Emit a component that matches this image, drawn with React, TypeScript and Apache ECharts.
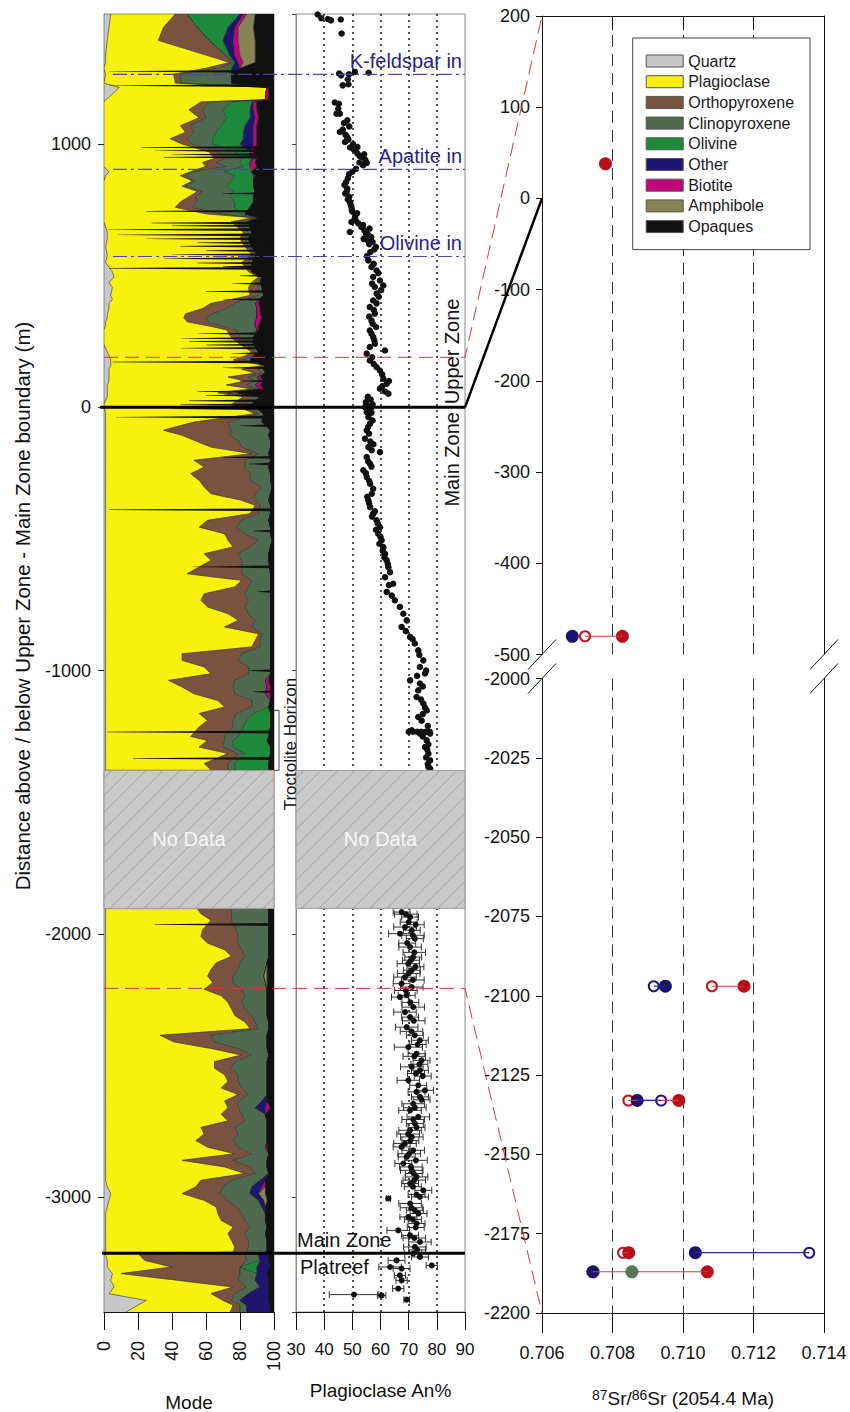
import React, { useEffect, useRef } from "react";
import * as echarts from "echarts";

const FONT = "'Liberation Sans', Arial, Helvetica, sans-serif";

// ---------------- Modal mineralogy (stacked, % per sample) ----------------
const minerals = ["Quartz", "Plagioclase", "Orthopyroxene", "Clinopyroxene", "Olivine", "Other", "Biotite", "Amphibole", "Opaques"];
const mineralColors = ["#c8c8c8", "#f7f10d", "#7a5240", "#4e6b50", "#1e8a3c", "#1f1672", "#c2047a", "#878352", "#111111"];

const modeDepth = [
  1494, 1443, 1394, 1336, 1310, 1288, 1265, 1232,
  1215, 1190, 1168, 1160, 1130, 1100, 1070, 1045, 1020, 1000,
  970, 945, 930, 915, 895, 880, 860, 840,
  820, 800, 780, 760, 735, 720, 705,
  665, 640, 610, 580, 550,
  515, 495, 475, 455, 425, 410, 395, 375,
  355, 340, 325, 310, 295, 265, 240,
  210, 195, 180, 160, 145, 130, 115, 100, 85,
  70, 55, 40, 12, -24, -56, -87,
  -106, -125, -151, -176, -201, -227, -252, -277, -303,
  -328, -353, -372, -404, -429, -455, -480, -505, -530,
  -556, -581, -632, -657, -682, -708, -733, -758, -784,
  -809, -834, -860, -885, -910, -936, -961, -986, -1012, -1037,
  -1062, -1088, -1113, -1138, -1163, -1189, -1214, -1250, -1265,
  -1290, -1315, -1353, -1378, -1904, -1923, -1948, -1985,
  -2010, -2035, -2060, -2085, -2110, -2135, -2160, -2185, -2210, -2235,
  -2260, -2285, -2310, -2335, -2360, -2385, -2410, -2435, -2460, -2485,
  -2510, -2535, -2560, -2585, -2610, -2635, -2660, -2685, -2710, -2735,
  -2760, -2785, -2810, -2835, -2860, -2885, -2910, -2936, -2961, -2986,
  -3012, -3037, -3062, -3088, -3113, -3138, -3164, -3189, -3208, -3220,
  -3240, -3265, -3290, -3316, -3341, -3366, -3392, -3410, -3440,
];
const quartz = [
  4, 3, 2, 1, 1, 0, 1, 0,
  9, 5, 1, 0, 0, 0, 0, 0, 0, 0,
  0, 0, 0, 0, 3, 1, 0, 0,
  0, 0, 0, 0, 0, 0, 0,
  2, 2, 1, 2, 1,
  5, 6, 3, 5, 4, 5, 3, 3,
  2, 2, 1, 1, 0, 0, 0,
  2, 3, 4, 4, 3, 3, 3, 3, 2,
  2, 2, 2, 0, 1, 1, 1,
  1, 1, 1, 1, 1, 1, 1, 1, 1,
  1, 1, 1, 1, 1, 1, 1, 1, 1,
  1, 1, 1, 1, 1, 1, 1, 1, 1,
  1, 1, 1, 1, 1, 1, 1, 1, 1, 1,
  1, 1, 1, 1, 1, 1, 1, 1, 1,
  1, 1, 1, 1, 1, 1, 1, 1,
  1, 1, 1, 1, 1, 1, 1, 1, 1, 1,
  1, 1, 1, 1, 1, 1, 1, 1, 1, 1,
  1, 1, 1, 1, 1, 1, 1, 1, 1, 1,
  1, 1, 1, 1, 1, 1, 1, 1, 2, 4,
  3, 2, 1, 1, 1, 1, 1, 1, 1, 1,
  2, 2, 5, 4, 6, 3, 25, 20, 12,
];
const plagioclase = [
  38, 32, 30, 60, 73, 60, 40, 42,
  87, 90, 94, 57, 50, 56, 45, 48, 39, 46,
  62, 65, 58, 60, 48, 44, 52, 46,
  55, 50, 45, 42, 60, 88, 75,
  80, 78, 82, 85, 80,
  80, 85, 84, 80, 82, 70, 60, 55,
  46, 45, 48, 60, 72, 75, 80,
  85, 80, 72, 90, 78, 86, 70, 80, 70,
  85, 65, 80, 75, 88, 52, 34,
  45, 52, 62, 86, 52, 58, 50, 55, 58,
  62, 80, 88, 85, 60, 55, 70, 72, 75,
  58, 62, 48, 80, 76, 58, 56, 60, 72,
  78, 70, 90, 88, 86, 45, 45, 58, 62, 37,
  45, 52, 66, 70, 55, 60, 55, 50, 60,
  55, 72, 58, 62, 54, 56, 62, 57,
  56, 60, 70, 74, 65, 62, 60, 63, 58, 68,
  72, 74, 76, 82, 85, 32, 40, 62, 80, 64,
  64, 70, 72, 68, 78, 70, 72, 68, 72, 56,
  58, 53, 60, 76, 45, 70, 82, 56, 52, 42,
  56, 64, 66, 68, 75, 72, 74, 76, 75, 20,
  22, 38, 5, 40, 70, 60, 45, 56, 62,
];
const orthopyroxene = [
  7, 20, 30, 11, 2, 8, 4, 3,
  0, 0, 0, 5, 8, 4, 6, 5, 10, 6,
  6, 6, 8, 12, 2, 3, 2, 2,
  3, 4, 10, 10, 10, 2, 4,
  3, 3, 2, 2, 4,
  2, 2, 3, 6, 5, 8, 14, 14,
  16, 13, 12, 8, 6, 5, 4,
  2, 5, 6, 1, 10, 4, 12, 6, 12,
  3, 6, 6, 8, 2, 20, 40,
  28, 26, 18, 4, 30, 24, 35, 30, 34,
  26, 8, 3, 5, 20, 22, 12, 18, 10,
  20, 18, 32, 6, 8, 24, 28, 22, 12,
  10, 16, 2, 3, 5, 35, 33, 26, 22, 39,
  30, 24, 20, 16, 22, 15, 20, 20, 10,
  14, 6, 14, 10, 20, 18, 12, 20,
  22, 18, 10, 8, 14, 16, 15, 12, 22, 14,
  8, 8, 10, 6, 5, 30, 24, 16, 6, 12,
  10, 8, 6, 12, 6, 8, 6, 12, 10, 20,
  20, 22, 18, 10, 30, 15, 6, 18, 16, 22,
  14, 12, 14, 14, 10, 10, 10, 8, 8, 62,
  60, 40, 70, 35, 8, 14, 5, 4, 6,
];
const clinopyroxene = [
  0, 0, 0, 0, 0, 5, 30, 30,
  0, 0, 0, 13, 12, 12, 18, 13, 15, 12,
  10, 10, 14, 10, 18, 29, 21, 24,
  18, 20, 22, 25, 10, 2, 5,
  2, 2, 2, 1, 2,
  0, 0, 2, 2, 3, 8, 12, 18,
  26, 30, 28, 20, 12, 8, 4,
  2, 0, 4, 0, 3, 2, 5, 3, 5,
  2, 6, 4, 4, 3, 20, 23,
  23, 19, 17, 6, 15, 14, 12, 12, 6,
  9, 8, 6, 7, 16, 20, 15, 8, 12,
  18, 16, 17, 11, 13, 15, 13, 15, 13,
  9, 11, 5, 6, 6, 17, 19, 13, 13, 18,
  20, 18, 11, 10, 10, 8, 6, 8, 5,
  6, 4, 4, 4, 22, 22, 22, 19,
  18, 18, 16, 14, 16, 16, 18, 19, 15, 13,
  15, 13, 9, 8, 6, 33, 31, 17, 10, 19,
  21, 17, 17, 15, 11, 14, 10, 14, 13, 19,
  17, 20, 16, 10, 20, 10, 8, 17, 17, 18,
  18, 15, 14, 12, 10, 12, 11, 11, 12, 8,
  8, 0, 10, 10, 8, 8, 5, 4, 4,
];
const olivine = [
  31, 18, 8, 2, 1, 2, 0, 0,
  0, 0, 0, 12, 16, 14, 14, 16, 18, 16,
  8, 6, 6, 4, 16, 11, 13, 16,
  13, 14, 11, 9, 3, 0, 1,
  0, 0, 0, 0, 0,
  0, 0, 0, 0, 0, 0, 0, 0,
  0, 0, 0, 0, 0, 0, 0,
  0, 0, 0, 0, 0, 0, 0, 0, 0,
  0, 0, 0, 0, 0, 0, 0,
  0, 0, 0, 0, 0, 0, 0, 0, 0,
  0, 0, 0, 0, 0, 0, 0, 0, 0,
  0, 0, 0, 0, 0, 0, 0, 0, 0,
  0, 0, 0, 0, 0, 0, 0, 0, 0, 0,
  0, 0, 0, 0, 10, 14, 16, 18, 20,
  22, 15, 20, 20, 0, 0, 0, 0,
  0, 0, 0, 0, 0, 0, 0, 0, 0, 0,
  0, 0, 0, 0, 0, 0, 0, 0, 0, 0,
  0, 0, 0, 0, 0, 0, 0, 0, 0, 0,
  0, 0, 0, 0, 0, 0, 0, 0, 0, 0,
  0, 0, 0, 0, 0, 0, 0, 0, 0, 0,
  0, 10, 0, 0, 0, 0, 0, 0, 0,
];
const otherMinerals = [
  2, 4, 6, 3, 2, 5, 0, 0,
  0, 0, 0, 1, 2, 3, 5, 6, 6, 8,
  0, 1, 0, 0, 0, 0, 0, 0,
  0, 0, 0, 0, 0, 0, 0,
  0, 0, 0, 0, 0,
  0, 0, 0, 0, 0, 0, 0, 0,
  0, 0, 0, 0, 0, 0, 0,
  0, 0, 0, 0, 0, 0, 0, 0, 0,
  0, 0, 0, 0, 0, 0, 0,
  0, 0, 0, 0, 0, 0, 0, 0, 0,
  0, 0, 0, 0, 0, 0, 0, 0, 0,
  0, 0, 0, 0, 0, 0, 0, 0, 0,
  0, 0, 0, 0, 0, 0, 0, 0, 0, 0,
  0, 0, 0, 0, 0, 0, 0, 0, 0,
  0, 0, 0, 0, 0, 0, 0, 0,
  0, 0, 0, 0, 0, 0, 0, 0, 0, 0,
  0, 0, 0, 0, 0, 0, 0, 0, 0, 0,
  0, 0, 0, 0, 0, 3, 6, 0, 0, 0,
  0, 0, 0, 0, 0, 0, 0, 3, 6, 5,
  3, 2, 0, 0, 0, 0, 0, 0, 0, 6,
  5, 8, 6, 8, 5, 12, 17, 14, 14,
];
const biotite = [
  2, 2, 3, 3, 3, 0, 0, 0,
  1, 2, 2, 2, 2, 2, 2, 2, 2, 2,
  2, 2, 3, 4, 0, 1, 0, 0,
  0, 0, 0, 0, 0, 0, 0,
  0, 0, 0, 0, 0,
  0, 0, 0, 0, 0, 1, 2, 2,
  2, 3, 3, 2, 1, 0, 0,
  0, 0, 0, 0, 0, 0, 2, 2, 3,
  2, 0, 0, 0, 0, 0, 0,
  0, 0, 0, 0, 0, 0, 0, 0, 0,
  0, 0, 0, 0, 0, 0, 0, 0, 0,
  0, 0, 0, 0, 0, 0, 0, 0, 0,
  0, 0, 0, 0, 0, 0, 0, 0, 0, 2,
  2, 3, 0, 0, 0, 0, 0, 0, 0,
  0, 0, 0, 0, 0, 0, 0, 0,
  0, 0, 0, 0, 0, 0, 0, 0, 0, 0,
  0, 0, 0, 0, 0, 0, 0, 0, 0, 0,
  0, 0, 0, 0, 0, 0, 3, 0, 0, 0,
  0, 0, 1, 0, 0, 0, 0, 0, 2, 0,
  0, 0, 0, 0, 0, 0, 0, 0, 0, 0,
  0, 0, 0, 0, 0, 0, 0, 0, 0,
];
const amphibole = [
  5, 9, 10, 9, 7, 0, 0, 0,
  0, 0, 0, 0, 0, 0, 0, 0, 0, 0,
  0, 0, 0, 0, 0, 0, 0, 0,
  0, 0, 0, 0, 0, 0, 0,
  0, 0, 0, 0, 0,
  0, 0, 0, 0, 0, 0, 0, 0,
  0, 0, 0, 0, 0, 0, 0,
  0, 0, 0, 0, 0, 0, 0, 0, 0,
  0, 0, 0, 0, 0, 0, 0,
  0, 0, 0, 0, 0, 0, 0, 0, 0,
  0, 0, 0, 0, 0, 0, 0, 0, 0,
  0, 0, 0, 0, 0, 0, 0, 0, 0,
  0, 0, 0, 0, 0, 0, 0, 0, 0, 0,
  0, 0, 0, 0, 0, 0, 0, 0, 0,
  0, 0, 0, 0, 0, 0, 0, 0,
  0, 0, 0, 0, 0, 1, 2, 1, 0, 0,
  0, 0, 0, 0, 0, 0, 0, 0, 0, 0,
  0, 0, 0, 0, 0, 0, 0, 0, 0, 0,
  0, 0, 0, 0, 0, 0, 0, 0, 0, 4,
  2, 0, 0, 0, 0, 0, 0, 0, 0, 0,
  0, 0, 0, 0, 0, 0, 0, 0, 0,
];
const opaques = [
  11, 12, 11, 11, 11, 20, 25, 25,
  3, 3, 3, 10, 10, 9, 10, 10, 10, 10,
  12, 10, 11, 10, 13, 11, 12, 12,
  11, 12, 12, 14, 17, 8, 15,
  13, 15, 13, 10, 13,
  13, 7, 8, 7, 6, 8, 9, 8,
  8, 7, 8, 9, 9, 12, 12,
  9, 12, 14, 5, 6, 5, 8, 6, 8,
  6, 21, 8, 13, 6, 7, 2,
  3, 2, 2, 3, 2, 3, 2, 2, 1,
  2, 3, 2, 2, 3, 2, 2, 1, 2,
  3, 3, 2, 2, 2, 2, 2, 2, 2,
  2, 2, 2, 2, 2, 2, 2, 2, 2, 3,
  2, 2, 2, 3, 2, 2, 2, 3, 4,
  2, 2, 3, 3, 3, 3, 3, 3,
  3, 3, 3, 3, 4, 4, 4, 4, 4, 4,
  4, 4, 4, 3, 3, 4, 4, 4, 3, 4,
  4, 4, 4, 4, 4, 4, 2, 5, 4, 4,
  4, 4, 4, 3, 4, 4, 3, 5, 5, 5,
  4, 5, 5, 5, 4, 5, 4, 4, 4, 3,
  3, 2, 4, 3, 3, 3, 3, 2, 2,
];
const modeValues = [quartz, plagioclase, orthopyroxene, clinopyroxene, olivine, otherMinerals, biotite, amphibole, opaques];

// thin opaque-rich seams: depth (m) and the mode % their tip reaches from the right
const seamDepth = [1276, 1222, 987, 975, 960, 950, 812, 745, 700, 690, 675, 655, 640, 625, 612, 595, 580, 565, 548, 535, 528, 500, 470, 440, 410, 280, 262, 250, 237, 225, 205, 172, 150, 100, 60, 45, 25, 10, -5, -37, -70, -190, -215, -389, -470, -606, -700, -1000, -1080, -1233, -1334, -1964];
const seamReach = [3, 3, 22, 30, 40, 35, 70, 25, 28, 40, 2, 8, 25, 55, 45, 60, 40, 35, 55, 70, 3, 80, 75, 60, 70, 55, 45, 50, 60, 45, 75, 5, 70, 80, 55, 60, 50, 45, 40, 7, 80, 70, 85, 3, 88, 52, 90, 85, 88, 2, 17, 30];

// ---------------- Plagioclase An% ----------------
// [depth (m), An%]
const anUpperSamples = [
  [1492, 37.7], [1478, 39.0], [1475, 41.3], [1470, 42.4], [1473, 45.9], [1420, 46.2],
  [1274, 50.9], [1271, 55.8], [1268, 45.3], [1265, 48.8], [1261, 46.0], [1246, 48.4], [1227, 48.6], [1223, 46.6],
  [1158, 43.8], [1153, 45.2], [1134, 45.0], [1115, 45.6], [1115, 44.4], [1090, 48.2], [1080, 47.0], [1067, 48.9],
  [1055, 46.6], [1046, 45.6], [1035, 47.6], [1027, 48.2], [1017, 48.6], [1008, 47.4], [999, 50.3], [989, 51.8],
  [987, 49.2], [980, 50.5], [974, 51.3], [964, 51.8], [961, 54.2], [955, 52.6], [951, 53.3], [940, 54.6],
  [930, 52.5], [928, 55.1], [920, 53.8], [906, 51.3], [895, 50.0], [885, 48.8], [870, 48.4], [856, 47.8],
  [845, 47.2], [831, 48.2], [820, 48.0], [812, 47.5], [800, 48.9], [790, 48.4], [781, 49.1], [770, 49.4],
  [762, 49.7], [750, 49.8], [743, 50.1], [737, 51.7], [725, 51.0], [718, 50.9], [710, 51.2], [704, 49.7],
  [699, 52.1], [692, 53.8], [685, 53.2], [679, 56.1], [672, 54.3], [666, 49.1], [660, 54.9], [655, 55.6],
  [647, 56.7], [640, 54.0], [634, 55.5], [628, 57.2], [620, 56.0], [609, 58.4], [600, 57.8], [590, 56.4],
  [575, 55.2], [558, 55.7], [545, 57.6], [533, 56.8], [520, 58.6], [510, 59.2], [495, 57.4], [482, 59.8],
  [470, 57.0], [463, 61.0], [457, 58.0], [445, 60.2], [432, 58.6], [420, 59.4], [406, 57.4], [395, 58.6],
  [381, 56.2], [370, 57.6], [356, 58.0], [345, 56.0], [330, 56.8], [318, 57.2], [305, 58.4], [292, 56.2],
  [280, 56.8], [267, 57.4], [255, 57.8], [242, 58.0], [229, 56.2], [216, 61.6], [204, 55.1], [190, 57.0],
  [178, 56.2], [165, 57.6], [153, 58.6], [140, 59.8], [125, 60.6], [109, 61.0], [100, 63.0], [90, 62.2],
  [80, 60.6], [71, 59.8], [60, 61.6], [52, 62.8], [40, 55.5], [30, 56.5], [20, 54.8], [12, 57.2],
  [5, 55.8], [1, 54.5], [-2, 56.6], [-18, 55.1], [-20, 56.8], [-37, 55.7], [-50, 57.2], [-62, 56.3],
  [-75, 55.6], [-87, 55.1], [-100, 55.9], [-119, 54.5], [-130, 56.4], [-140, 57.5], [-151, 55.7], [-163, 56.9],
  [-170, 59.8], [-189, 55.1], [-205, 55.6], [-214, 56.3], [-225, 56.8], [-239, 53.9], [-250, 54.8], [-265, 55.1],
  [-280, 56.0], [-290, 56.3], [-309, 57.4], [-328, 56.9], [-340, 55.3], [-353, 55.7], [-365, 56.0], [-379, 56.3],
  [-395, 58.0], [-404, 57.4], [-415, 57.0], [-429, 58.6], [-440, 59.0], [-455, 59.8], [-465, 58.4], [-480, 59.2],
  [-492, 60.0], [-505, 60.4], [-518, 59.6], [-531, 61.0], [-545, 60.8], [-556, 61.6], [-570, 61.4], [-581, 62.2],
  [-595, 62.6], [-607, 62.8], [-626, 63.4], [-645, 61.6], [-670, 64.5], [-675, 63.0], [-701, 62.2], [-715, 64.0],
  [-733, 65.1], [-758, 66.9], [-784, 68.1], [-809, 69.3], [-834, 67.5], [-850, 69.0], [-872, 70.5], [-880, 71.4],
  [-897, 72.2], [-923, 73.4], [-940, 73.8], [-961, 75.2], [-986, 74.0], [-1000, 76.2], [-1011, 75.8], [-1020, 73.0],
  [-1037, 70.5], [-1049, 74.0], [-1060, 75.0], [-1075, 73.4], [-1100, 72.8], [-1110, 74.4], [-1125, 75.2], [-1140, 75.8],
  [-1151, 76.4], [-1165, 75.0], [-1176, 73.4], [-1190, 74.6], [-1210, 76.8], [-1227, 71.1], [-1232, 70.0], [-1232, 71.5],
  [-1232, 73.0], [-1232, 74.5], [-1232, 76.0], [-1232, 77.5], [-1236, 75.5], [-1239, 74.0], [-1239, 77.6], [-1250, 75.0],
  [-1265, 76.4], [-1280, 77.0], [-1290, 75.8], [-1300, 76.6], [-1315, 77.0], [-1330, 76.2], [-1341, 77.6], [-1355, 76.8],
  [-1366, 77.0], [-1372, 77.6],
];
// [depth (m), An%, error (±An%)]
const anLowerSamples = [
  [-1917, 67.5, 3], [-1925, 69.0, 4], [-1936, 70.5, 3], [-1955, 70.0, 3], [-1965, 72.5, 3], [-1974, 68.7, 4],
  [-1986, 71.1, 3], [-1999, 66.9, 4], [-2005, 71.5, 4], [-2018, 72.2, 3], [-2035, 69.5, 3], [-2050, 70.5, 4],
  [-2070, 72.0, 4], [-2088, 71.6, 3], [-2100, 70.8, 3], [-2113, 69.9, 4], [-2125, 72.4, 3], [-2138, 71.1, 3],
  [-2150, 70.0, 4], [-2164, 68.7, 4], [-2175, 71.5, 4], [-2189, 67.5, 3], [-2202, 71.1, 4], [-2215, 69.0, 4],
  [-2233, 69.3, 3], [-2240, 66.9, 3], [-2260, 70.6, 3], [-2278, 71.6, 4], [-2297, 68.7, 4], [-2316, 70.5, 3],
  [-2330, 71.8, 4], [-2354, 69.3, 4], [-2370, 71.0, 4], [-2385, 72.2, 3], [-2404, 74.0, 3], [-2420, 73.2, 3],
  [-2430, 69.9, 5], [-2455, 72.8, 3], [-2465, 72.0, 4], [-2480, 74.6, 3], [-2495, 73.8, 3], [-2505, 71.1, 4],
  [-2518, 74.0, 3], [-2530, 72.6, 3], [-2540, 75.0, 3], [-2556, 69.9, 4], [-2575, 73.4, 3], [-2594, 75.8, 3],
  [-2600, 72.8, 3], [-2619, 74.0, 3], [-2630, 74.6, 3], [-2645, 71.6, 4], [-2660, 72.2, 4], [-2670, 70.5, 4],
  [-2695, 73.4, 4], [-2705, 71.6, 4], [-2720, 72.2, 3], [-2735, 72.8, 3], [-2746, 70.5, 4], [-2760, 69.8, 4],
  [-2771, 71.1, 4], [-2785, 70.6, 3], [-2796, 68.7, 4], [-2809, 67.5, 3], [-2822, 71.6, 4], [-2835, 70.2, 4],
  [-2847, 69.3, 3], [-2860, 72.6, 4], [-2872, 68.1, 3], [-2885, 70.8, 4], [-2898, 71.1, 4], [-2910, 71.8, 3],
  [-2923, 72.8, 4], [-2935, 72.0, 4], [-2948, 70.5, 3], [-2960, 71.5, 3], [-2974, 75.2, 3], [-2990, 72.8, 3],
  [-2999, 74.0, 3], [-3005, 62.8, 0.8], [-3024, 70.5, 4], [-3040, 71.0, 4], [-3050, 72.2, 3], [-3062, 73.5, 3],
  [-3075, 69.9, 3], [-3085, 71.5, 3], [-3100, 72.8, 3], [-3115, 72.5, 3], [-3126, 66.3, 4], [-3145, 70.5, 3],
  [-3155, 72.0, 4], [-3170, 74.0, 4], [-3189, 72.2, 4], [-3200, 73.0, 3], [-3214, 71.6, 3], [-3227, 74.0, 3],
  [-3240, 65.7, 3], [-3259, 78.2, 2], [-3265, 63.4, 4], [-3271, 67.5, 3], [-3297, 66.9, 2], [-3316, 67.5, 2],
  [-3347, 66.3, 2], [-3370, 50.6, 8.8], [-3373, 60.4, 1.5], [-3389, 69.3, 1],
];

// ---------------- 87Sr/86Sr (2054.4 Ma) ----------------
const srDepth = [38, -480, -2097, -2133, -2181, -2187];
const srRedFilled = [0.7078, 0.70828, 0.71173, 0.70988, 0.70846, 0.71069];
const srRedOpen = [null, 0.70722, 0.71082, 0.70845, 0.7083, 0.70743];
const srNavyFilled = [null, 0.70686, 0.7095, 0.7087, 0.71035, 0.70745];
const srNavyOpen = [null, null, 0.70917, 0.70938, 0.71358, null];
const srGreenFilled = [null, null, null, null, null, 0.70855];

// ---------------- Annotations ----------------
const phaseNames = ["K-feldspar in", "Apatite in", "Olivine in"];
const phaseDepths = [1265, 904, 573];
const zoneBoundaryDepth = 0;
const platreefDepth = -3213;
const redLinkDepths = [190, -2207];
const srLinkValues = [200, -2200];
const troctoliteTopDepth = -1151;
const noDataTop = -1379;
const noDataBottom = -1903;

const MODE_MIN = -3436;
const MODE_MAX = 1494;

function buildOption() {
  const lo: number[][] = [];
  const hi: number[][] = [];
  let run = modeDepth.map(() => 0);
  modeValues.forEach((arr) => {
    lo.push(run);
    run = run.map((v, i) => v + arr[i]);
    hi.push(run);
  });
  const segments: number[][] = [];
  let s = 0;
  for (let i = 1; i < modeDepth.length; i++) {
    if (modeDepth[i - 1] - modeDepth[i] > 300) {
      segments.push([s, i - 1]);
      s = i;
    }
  }
  segments.push([s, modeDepth.length - 1]);

  const modeSeries: any[] = minerals.map((name, k) => ({
    type: "custom",
    name,
    xAxisIndex: 0,
    yAxisIndex: 0,
    clip: true,
    silent: true,
    itemStyle: { color: mineralColors[k] },
    data: [[0, 0]],
    renderItem: (_p: any, api: any) => ({
      type: "group",
      children: segments.map(([a, b]) => {
        const pts: number[][] = [];
        for (let i = a; i <= b; i++) pts.push(api.coord([hi[k][i], modeDepth[i]]));
        for (let i = b; i >= a; i--) pts.push(api.coord([lo[k][i], modeDepth[i]]));
        return {
          type: "polygon",
          shape: { points: pts },
          style: { fill: mineralColors[k], stroke: "#1a1a1a", lineWidth: 0.4 },
        };
      }),
    }),
  }));
  modeSeries.push({
    type: "custom",
    xAxisIndex: 0,
    yAxisIndex: 0,
    clip: true,
    silent: true,
    data: seamDepth.map((d, i) => [seamReach[i], d]),
    renderItem: (_p: any, api: any) => {
      const r = api.value(0);
      const d = api.value(1);
      return {
        type: "polygon",
        shape: {
          points: [api.coord([100, d + 5.5]), api.coord([r, d + 0.8]), api.coord([r, d - 0.8]), api.coord([100, d - 5.5])],
        },
        style: { fill: "#111" },
      };
    },
  });

  const anSeries: any[] = [
    {
      type: "scatter",
      xAxisIndex: 1,
      yAxisIndex: 1,
      silent: true,
      symbolSize: 6.5,
      itemStyle: { color: "#111", opacity: 1 },
      data: anUpperSamples.map(([d, a]) => [a, d]),
    },
    {
      type: "custom",
      xAxisIndex: 1,
      yAxisIndex: 1,
      silent: true,
      data: anLowerSamples.map(([d, a, e]) => [a, d, e]),
      renderItem: (_p: any, api: any) => {
        const v = api.value(0);
        const d = api.value(1);
        const e = api.value(2);
        const a = api.coord([v - e, d]);
        const b = api.coord([v + e, d]);
        const st = { stroke: "#333", lineWidth: 1 };
        return {
          type: "group",
          children: [
            { type: "line", shape: { x1: a[0], y1: a[1], x2: b[0], y2: b[1] }, style: st },
            { type: "line", shape: { x1: a[0], y1: a[1] - 3.5, x2: a[0], y2: a[1] + 3.5 }, style: st },
            { type: "line", shape: { x1: b[0], y1: b[1] - 3.5, x2: b[0], y2: b[1] + 3.5 }, style: st },
          ],
        };
      },
    },
    {
      type: "scatter",
      xAxisIndex: 1,
      yAxisIndex: 1,
      silent: true,
      symbolSize: 6,
      itemStyle: { color: "#111", opacity: 1 },
      data: anLowerSamples.map(([d, a]) => [a, d]),
    },
  ];

  const srAxes = (d: number) => (d > -1000 ? { xAxisIndex: 2, yAxisIndex: 2 } : { xAxisIndex: 3, yAxisIndex: 4 });
  const srSeries: any[] = [];
  const linkPairs: [any[], any[], string][] = [
    [srRedOpen, srRedFilled, "#d43a3a"],
    [srNavyOpen, srNavyFilled, "#2a2790"],
  ];
  linkPairs.forEach(([a, b, color]) => {
    srDepth.forEach((d, i) => {
      if (a[i] != null && b[i] != null) {
        srSeries.push({
          type: "line",
          ...srAxes(d),
          silent: true,
          symbol: "none",
          lineStyle: { color, width: 1.2 },
          data: [[a[i], d], [b[i], d]],
        });
      }
    });
  });
  const markerKinds: [any[], string, string, number][] = [
    [srRedOpen, "emptyCircle", "#c0121b", 10],
    [srNavyOpen, "emptyCircle", "#1f1a86", 10],
    [srGreenFilled, "circle", "#4f7a56", 13],
    [srRedFilled, "circle", "#b90f18", 13],
    [srNavyFilled, "circle", "#1a126c", 13],
  ];
  markerKinds.forEach(([vals, symbol, color, size]) => {
    [true, false].forEach((top) => {
      const data = srDepth
        .map((d, i) => (vals[i] == null ? null : [vals[i], d]))
        .filter((p) => p && (top ? p[1] > -1000 : p[1] <= -1000));
      if (!data.length) return;
      srSeries.push({
        type: "scatter",
        ...(top ? { xAxisIndex: 2, yAxisIndex: 2 } : { xAxisIndex: 3, yAxisIndex: 4 }),
        silent: true,
        symbol,
        symbolSize: size,
        itemStyle: { color, opacity: 1, borderWidth: symbol === "emptyCircle" ? 1.5 : 0 },
        data,
      });
    });
  });

  const lbl = { color: "#111", fontFamily: FONT, fontSize: 18 };
  const blackLine = { show: true, onZero: false, lineStyle: { color: "#111", width: 1 } };
  const grayLine = { show: true, onZero: false, lineStyle: { color: "#8c8c8c", width: 1 } };
  const srDash = {
    show: true,
    showMinLine: false,
    showMaxLine: false,
    lineStyle: { type: [12, 7], color: "#333", width: 1 },
  };
  const fmt = (v: number) => String(v);

  return {
    animation: false,
    backgroundColor: "#fff",
    textStyle: { fontFamily: FONT },
    grid: [
      { left: 104, top: 14, width: 170, height: 1298, show: true, borderColor: "#8c8c8c", borderWidth: 1 },
      { left: 296, top: 14, width: 169, height: 1298, show: true, borderColor: "#8c8c8c", borderWidth: 1 },
      { left: 542, top: 16, width: 282, height: 638.5 },
      { left: 542, top: 678.5, width: 282, height: 634.5 },
    ],
    legend: {
      data: minerals,
      orient: "vertical",
      left: 632.7,
      top: 38,
      icon: "rect",
      itemWidth: 37,
      itemHeight: 12,
      itemGap: 4.7,
      padding: [15, 16, 15, 13],
      backgroundColor: "#fff",
      borderColor: "#444",
      borderWidth: 1,
      selectedMode: false,
      itemStyle: { borderColor: "#555", borderWidth: 1 },
      textStyle: { fontSize: 16, color: "#1a1a1a", fontFamily: FONT },
    },
    xAxis: [
      {
        gridIndex: 0, type: "value", min: 0, max: 100, interval: 20, position: "bottom",
        axisLine: blackLine,
        axisTick: { show: true, length: 18, lineStyle: { color: "#111" } },
        axisLabel: { ...lbl, rotate: 90, margin: 29 },
        splitLine: { show: false },
      },
      {
        gridIndex: 1, type: "value", min: 30, max: 90, interval: 10, position: "bottom",
        axisLine: blackLine,
        axisTick: { show: true, length: 18, lineStyle: { color: "#111" } },
        axisLabel: { ...lbl, fontSize: 17, margin: 29 },
        splitLine: { show: true, showMinLine: false, showMaxLine: false, lineStyle: { type: [2, 4], color: "#222", width: 1.6 } },
      },
      {
        gridIndex: 2, type: "value", min: 0.706, max: 0.714, interval: 0.002, position: "top",
        axisLine: blackLine,
        axisTick: { show: true, inside: true, length: 14, lineStyle: { color: "#111" } },
        axisLabel: { show: false },
        splitLine: srDash,
      },
      {
        gridIndex: 3, type: "value", min: 0.706, max: 0.714, interval: 0.002, position: "bottom",
        axisLine: blackLine,
        axisTick: { show: true, length: 20, lineStyle: { color: "#111" } },
        axisLabel: { ...lbl, margin: 31, formatter: (v: number) => v.toFixed(3) },
        splitLine: srDash,
      },
    ],
    yAxis: [
      {
        gridIndex: 0, type: "value", min: MODE_MIN, max: MODE_MAX, minInterval: 1000, maxInterval: 1000,
        axisLine: grayLine,
        axisTick: { show: true, length: 6, lineStyle: { color: "#222" } },
        axisLabel: { ...lbl, margin: 13, showMinLabel: false, showMaxLabel: false, formatter: fmt },
        splitLine: { show: false },
      },
      {
        gridIndex: 1, type: "value", min: MODE_MIN, max: MODE_MAX, minInterval: 1000, maxInterval: 1000,
        axisLine: grayLine,
        axisTick: { show: true, length: 4, lineStyle: { color: "#444" } },
        axisLabel: { show: false },
        splitLine: { show: false },
      },
      {
        gridIndex: 2, type: "value", min: -500, max: 200, interval: 100,
        axisLine: blackLine,
        axisTick: { show: true, length: 6, lineStyle: { color: "#111" } },
        axisLabel: { ...lbl, margin: 12, formatter: fmt },
        splitLine: { show: false },
      },
      {
        gridIndex: 2, type: "value", position: "right", min: -500, max: 200, interval: 100,
        axisLine: blackLine, axisTick: { show: false }, axisLabel: { show: false }, splitLine: { show: false },
      },
      {
        gridIndex: 3, type: "value", min: -2200, max: -2000, interval: 25,
        axisLine: blackLine,
        axisTick: { show: true, length: 6, lineStyle: { color: "#111" } },
        axisLabel: { ...lbl, margin: 12, formatter: fmt },
        splitLine: { show: false },
      },
      {
        gridIndex: 3, type: "value", position: "right", min: -2200, max: -2000, interval: 25,
        axisLine: blackLine, axisTick: { show: false }, axisLabel: { show: false }, splitLine: { show: false },
      },
    ],
    series: [...modeSeries, ...anSeries, ...srSeries],
  };
}

function buildGraphic(chart: any) {
  const P = (g: number, x: number, y: number): number[] => chart.convertToPixel({ gridIndex: g }, [x, y]);
  const modeL = P(0, 0, 0)[0];
  const modeR = P(0, 100, 0)[0];
  const anL = P(1, 30, 0)[0];
  const anR = P(1, 90, 0)[0];
  const yD = (d: number) => P(0, 0, d)[1];
  const Z = 50;
  const els: any[] = [];
  const text = (x: number, y: number, t: string, extra: any = {}, rotation = 0) => ({
    type: "text",
    x,
    y,
    rotation,
    z: Z + 6,
    silent: true,
    style: { text: t, fontFamily: FONT, fontSize: 18, fill: "#111", align: "center", verticalAlign: "middle", ...extra },
  });
  const poly = (points: number[][], style: any, z = Z + 3) => ({
    type: "polyline",
    z,
    silent: true,
    shape: { points },
    style: { fill: null, ...style },
  });

  // No Data hatched areas
  const ndTop = yD(noDataTop);
  const ndBot = yD(noDataBottom);
  [[modeL, modeR], [anL, anR]].forEach(([x0, x1]) => {
    els.push({
      type: "rect", z: Z, silent: true,
      shape: { x: x0, y: ndTop, width: x1 - x0, height: ndBot - ndTop },
      style: { fill: "#c9c9c9", stroke: "#9a9a9a", lineWidth: 1 },
    });
    for (let c = x0 + ndTop + 8; c < x1 + ndBot; c += 17) {
      const xa = Math.max(x0, c - ndBot);
      const ya = c - xa;
      const xb = Math.min(x1, c - ndTop);
      const yb = c - xb;
      if (xb - xa > 1) {
        els.push({ type: "line", z: Z + 1, silent: true, shape: { x1: xa, y1: ya, x2: xb, y2: yb }, style: { stroke: "#8e8e8e", lineWidth: 0.8 } });
      }
    }
    els.push(text((x0 + x1) / 2, (ndTop + ndBot) / 2, "No Data", { fill: "#f6f6f6", fontSize: 20 }));
  });

  // phase-in dash-dot lines
  phaseDepths.forEach((d, i) => {
    const y = yD(d);
    els.push(poly([[modeL + 9, y], [anR, y]], { stroke: "#4848aa", lineWidth: 1.2, lineDash: [14, 4, 3, 4] }));
    els.push(text(anR - 3, y - 13, phaseNames[i], { align: "right", fill: "#2a1f8f", fontSize: 20 }));
  });

  // red dashed correlation lines
  const srTop = P(2, 0.706, srLinkValues[0]);
  const srBot = P(3, 0.706, srLinkValues[1]);
  [[redLinkDepths[0], srTop], [redLinkDepths[1], srBot]].forEach(([d, target]: any) => {
    const y = yD(d);
    els.push(poly([[modeL, y], [anR, y], target], { stroke: "#d83838", lineWidth: 1, lineDash: [14, 7] }));
  });

  // Upper Zone / Main Zone boundary
  const y0 = yD(zoneBoundaryDepth);
  els.push(poly([[modeL - 4, y0], [anR, y0]], { stroke: "#000", lineWidth: 3 }, Z + 4));
  els.push(poly([[anR, y0], P(2, 0.706, zoneBoundaryDepth)], { stroke: "#000", lineWidth: 2.5 }, Z + 4));
  els.push(text(anR - 13, y0 - 56, "Upper Zone", { fontSize: 20 }, Math.PI / 2));
  els.push(text(anR - 13, y0 + 52, "Main Zone", { fontSize: 20 }, Math.PI / 2));

  // Main Zone / Platreef boundary
  const yp = yD(platreefDepth);
  els.push(poly([[modeL - 2, yp], [anR, yp]], { stroke: "#000", lineWidth: 3 }, Z + 4));
  els.push(text(anL + 1, yp - 13, "Main Zone", { align: "left", fontSize: 20 }));
  els.push(text(anL + 4, yp + 14, "Platreef", { align: "left", fontSize: 20 }));

  // Troctolite Horizon bracket
  const yt = yD(troctoliteTopDepth);
  els.push(poly([[modeR, yt], [modeR + 5, yt], [modeR + 5, ndTop], [modeR, ndTop]], { stroke: "#444", lineWidth: 1 }));
  els.push(text(modeR + 16, 744, "Troctolite Horizon", { fontSize: 17 }, Math.PI / 2));

  // axis breaks on the Sr panel
  const brkTop = P(2, 0.706, -500)[1];
  const brkBot = P(3, 0.706, -2000)[1];
  [P(2, 0.706, 0)[0], P(2, 0.714, 0)[0]].forEach((x) => {
    [brkTop, brkBot].forEach((y) => {
      els.push({ type: "line", z: Z + 3, silent: true, shape: { x1: x - 14, y1: y + 15, x2: x + 14, y2: y - 15 }, style: { stroke: "#111", lineWidth: 1 } });
    });
  });

  // axis titles
  els.push(text(22, 606, "Distance above / below Upper Zone - Main Zone boundary (m)", { fontSize: 20.5 }, Math.PI / 2));
  els.push(text((modeL + modeR) / 2, 1402, "Mode", { fontSize: 19 }));
  els.push(text((anL + anR) / 2, 1390, "Plagioclase An%", { fontSize: 19 }));
  const srMid = (P(3, 0.706, -2200)[0] + P(3, 0.714, -2200)[0]) / 2;
  els.push({
    type: "text",
    x: srMid,
    y: 1398,
    z: Z + 6,
    silent: true,
    style: {
      text: "{sup|87}{n|Sr/}{sup|86}{n|Sr (2054.4 Ma)}",
      align: "center",
      verticalAlign: "middle",
      rich: {
        sup: { fontSize: 14, fontFamily: FONT, fill: "#111", color: "#111", lineHeight: 15, verticalAlign: "top" },
        n: { fontSize: 19, fontFamily: FONT, fill: "#111", color: "#111", lineHeight: 20, padding: [11, 0, 0, 0], verticalAlign: "bottom" },
      },
    },
  });

  return els;
}

export default function App() {
  const ref = useRef<HTMLDivElement>(null);
  useEffect(() => {
    if (!ref.current) return;
    const chart = echarts.init(ref.current, null, { renderer: "svg" });
    chart.setOption(buildOption() as any);
    chart.setOption({ graphic: buildGraphic(chart) } as any);
    return () => chart.dispose();
  }, []);
  return (
    <div
      ref={ref}
      style={{ position: "absolute", left: 0, top: 0, width: 850, height: 1412, background: "#fff" }}
    />
  );
}
